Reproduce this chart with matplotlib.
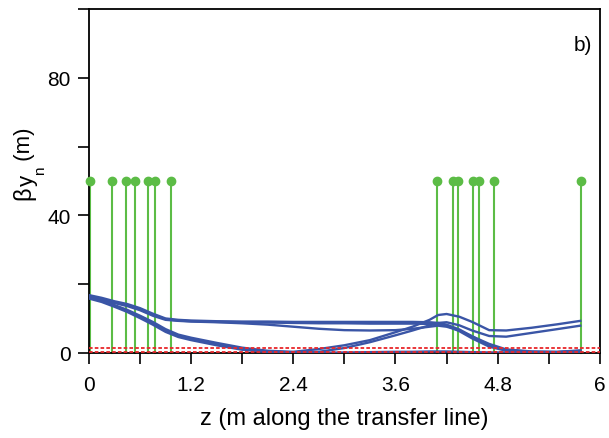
#!/usr/bin/env python3
"""Vertical beta function along the transfer line, panel b."""
import matplotlib
import numpy as np

matplotlib.use("Agg")
import matplotlib.pyplot as plt  # noqa: E402


# position along the line (m), shared by all traced curves
z = [0.0, 0.15, 0.3, 0.45, 0.6, 0.75, 0.9, 1.05, 1.2, 1.5, 1.8, 2.1, 2.4, 2.7,
     3.0, 3.3, 3.6, 3.8, 4.0, 4.1, 4.2, 4.35, 4.5, 4.7, 4.9, 5.2, 5.5, 5.77]

# upper bundle (flat ~9 m in the drift)
beta_u1 = [16.8, 16.0, 15.0, 14.2, 13.0, 11.4, 10.0, 9.6, 9.4, 9.2, 9.1, 9.1, 9.0, 9.0,
           9.0, 9.0, 9.0, 9.0, 8.9, 8.7, 8.2, 6.8, 4.8, 2.2, 0.8, 0.3, 0.2, 0.6]
beta_u2 = [16.3, 15.6, 14.7, 13.9, 12.7, 11.1, 9.8, 9.4, 9.2, 9.0, 8.9, 8.8, 8.7, 8.6,
           8.6, 8.5, 8.5, 8.5, 8.4, 8.3, 7.9, 6.3, 4.2, 1.8, 0.6, 0.2, 0.2, 0.5]
beta_u3 = [16.0, 15.4, 14.5, 13.6, 12.4, 10.8, 9.6, 9.3, 9.1, 8.9, 8.6, 8.2, 7.6, 7.0,
           6.6, 6.5, 6.6, 7.0, 7.6, 7.9, 7.6, 6.5, 4.8, 2.6, 1.0, 0.4, 0.3, 0.7]

# lower bundle (drops to ~0, two of them rise again)
beta_l1 = [16.5, 15.3, 13.9, 12.5, 10.8, 9.0, 6.9, 5.3, 4.4, 2.9, 1.5, 0.6, 0.3, 1.1,
           2.2, 3.7, 6.0, 7.6, 9.6, 11.0, 11.3, 10.5, 9.0, 6.6, 6.5, 7.3, 8.3, 9.3]
beta_l2 = [16.2, 15.1, 13.7, 12.2, 10.5, 8.6, 6.5, 5.0, 4.1, 2.6, 1.2, 0.4, 0.1, 0.3,
           1.4, 3.1, 5.1, 6.5, 8.0, 8.7, 8.9, 8.0, 6.5, 4.9, 4.7, 5.8, 6.9, 7.9]
beta_l3 = [15.8, 14.8, 13.4, 11.9, 10.1, 8.2, 6.1, 4.6, 3.7, 2.2, 0.9, 0.2, 0.0, 0.0,
           0.1, 0.2, 0.3, 0.3, 0.4, 0.4, 0.4, 0.3, 0.2, 0.1, 0.1, 0.1, 0.1, 0.2]

# element positions (m) and marker height (m)
elements_z = [0.01, 0.27, 0.44, 0.54, 0.69, 0.78, 0.96,
              4.09, 4.27, 4.33, 4.51, 4.58, 4.76, 5.78]
element_height = 50

# red dashed limits (m)
limits = [1.4, 0.1]

x_ticklabels = ["0", "", "1.2", "", "2.4", "", "3.6", "", "4.8", "", "6"]
y_ticklabels = ["0", "", "40", "", "80", ""]

# y label pieces: text, font size, baseline x offset (px)
ylabel_parts = [("\u03b2", 17, 0), ("y", 16, 3), ("n", 11, 14), (" (m)", 16, 0)]

plt.rcParams["font.family"] = ["Liberation Sans", "DejaVu Sans"]

W, H = 609, 439
fig = plt.figure(figsize=(W / 100, H / 100), dpi=100)
ax = fig.add_axes([0.146, 0.194, 0.839, 0.783])

green = "#5cbc46"
for ze in elements_z:
    ax.plot([ze, ze], [0, element_height], color=green, lw=1.5, zorder=2, clip_on=False)
ax.plot(elements_z, [element_height] * len(elements_z), "o", color=green,
        ms=6, zorder=3, clip_on=False)

blue = "#3a55a6"
for beta in (beta_u1, beta_u2, beta_u3, beta_l1, beta_l2, beta_l3):
    ax.plot(z, beta, color=blue, lw=1.7, zorder=4)

for lim in limits:
    ax.axhline(lim, color="#e8262a", lw=1.3, ls=(0, (2, 1.2)), zorder=5)

ax.set_xticks(np.linspace(0, 6, len(x_ticklabels)))
ax.set_xticklabels(x_ticklabels)
ax.set_yticks(np.linspace(0, 100, len(y_ticklabels)))
ax.set_yticklabels(y_ticklabels)
ax.set_xlim(0, 6)
ax.set_ylim(0, 100)
ax.tick_params(direction="out", length=8, width=1.2, labelsize=15)
ax.tick_params(axis="x", pad=8)
ax.tick_params(axis="y", pad=5)
for side in ax.spines.values():
    side.set_linewidth(1.3)

ax.set_xlabel("z (m along the transfer line)", fontsize=17, labelpad=9)
ax.text(0.984, 0.898, "b)", transform=ax.transAxes, ha="right", va="center", fontsize=15)

# rotated y label built piece by piece so the subscripts sit like the original
renderer = fig.canvas.get_renderer()
base_x, pos_y = 30, H - 200
for text, size, dx in ylabel_parts:
    t = fig.text((base_x + dx) / W, pos_y / H, text, rotation=90, rotation_mode="anchor",
                 ha="left", va="baseline", fontsize=size)
    pos_y += t.get_window_extent(renderer).height

fig.savefig("out.png", dpi=100)
